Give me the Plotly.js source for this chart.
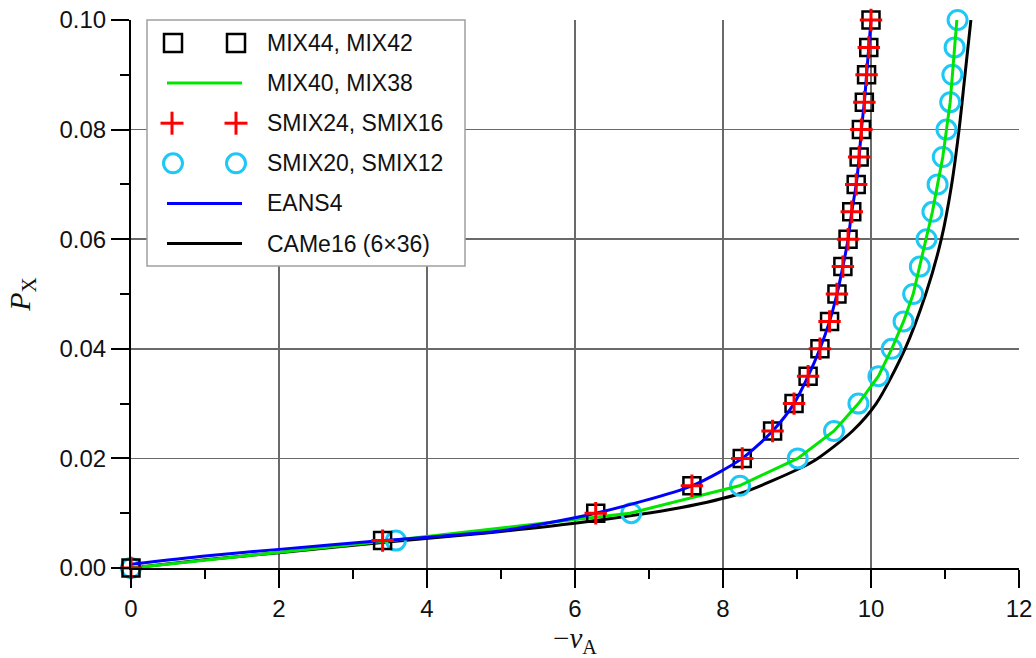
<!DOCTYPE html>
<html><head><meta charset="utf-8">
<script src="https://cdn.plot.ly/plotly-3.0.1.min.js"></script>
<style>html,body{margin:0;padding:0;background:#fff}#chart{width:1036px;height:658px}</style>
</head><body><div id="chart"></div>
<script>
// P_X levels shared by the marker series
const pxLevels = [0, 0.005, 0.01, 0.015, 0.02, 0.025, 0.03, 0.035, 0.04, 0.045, 0.05,
                  0.055, 0.06, 0.065, 0.07, 0.075, 0.08, 0.085, 0.09, 0.095, 0.10];
// MIX44, MIX42 (squares)
const mix44X = [0, 3.40, 6.28, 7.58, 8.26, 8.67, 8.96, 9.15, 9.31, 9.44, 9.54,
                9.62, 9.69, 9.74, 9.80, 9.84, 9.87, 9.91, 9.94, 9.97, 10.00];
// SMIX24, SMIX16 (plus)
const smix24X = [0, 3.40, 6.28, 7.58, 8.26, 8.67, 8.96, 9.15, 9.31, 9.44, 9.54,
                 9.62, 9.69, 9.74, 9.80, 9.84, 9.87, 9.91, 9.94, 9.97, 10.00];
// SMIX20, SMIX12 (circles)
const smix20X = [0, 3.58, 6.76, 8.23, 9.01, 9.50, 9.83, 10.10, 10.28, 10.44, 10.57,
                 10.66, 10.75, 10.83, 10.90, 10.97, 11.02, 11.07, 11.10, 11.13, 11.17];
// MIX40, MIX38 (green line)
const mix40X = [0, 3.52, 6.74, 8.22, 9.01, 9.50, 9.83, 10.10, 10.28, 10.44, 10.57,
                10.66, 10.75, 10.83, 10.90, 10.97, 11.02, 11.07, 11.10, 11.13, 11.16];
// EANS4 (blue line)
const eansX = [0, 1, 2, 3.40, 5.0, 6.28, 7.58, 8.26, 8.67, 8.96, 9.15, 9.31, 9.44, 9.54,
               9.62, 9.69, 9.74, 9.80, 9.84, 9.87, 9.91, 9.94, 9.97, 10.00];
const eansY = [0.0007, 0.0022, 0.0034, 0.005, 0.0068, 0.01, 0.015, 0.02, 0.025, 0.03, 0.035, 0.04,
               0.045, 0.05, 0.055, 0.06, 0.065, 0.07, 0.075, 0.08, 0.085, 0.09, 0.095, 0.10];
// CAMe16 (6x36) (black line)
const cameX = [0, 1, 2, 3.5, 4.8, 6.02, 7.42, 8.23, 9.04, 9.28, 9.75, 10.07, 10.46,
               10.74, 10.95, 11.09, 11.19, 11.27, 11.35];
const cameY = [0, 0.0015, 0.0028, 0.0048, 0.0064, 0.0082, 0.011, 0.0136, 0.0182, 0.020, 0.025,
               0.030, 0.040, 0.050, 0.060, 0.070, 0.080, 0.090, 0.100];

const legendLabels = ['MIX44, MIX42', 'MIX40, MIX38', 'SMIX24, SMIX16', 'SMIX20, SMIX12', 'EANS4', 'CAMe16 (6×36)'];

const C = {black:'#000000', green:'#00e600', red:'#ff0000', cyan:'#1ec8f5', blue:'#0000ff', grid:'#6a6a6a'};

const traces = [
  {x: cameX, y: cameY, mode:'lines', line:{color:C.black, width:3, shape:'spline', smoothing:0.8}, name:legendLabels[5]},
  {x: smix20X, y: pxLevels, mode:'markers', cliponaxis:false,
   marker:{symbol:'circle-open', size:19, line:{color:C.cyan, width:3}, color:C.cyan}, name:legendLabels[3]},
  {x: mix40X, y: pxLevels, mode:'lines', line:{color:C.green, width:3}, name:legendLabels[1]},
  {x: mix44X, y: pxLevels, mode:'markers', cliponaxis:false,
   marker:{symbol:'square-open', size:17, line:{color:C.black, width:2.5}, color:C.black}, name:legendLabels[0]},
  {x: eansX, y: eansY, mode:'lines', line:{color:C.blue, width:3, shape:'spline', smoothing:0.7}, name:legendLabels[4]},
  {x: smix24X, y: pxLevels, mode:'markers', cliponaxis:false,
   marker:{symbol:'cross-thin', size:16, line:{color:C.red, width:3}, color:C.red}, name:legendLabels[2]}
];

// plot area geometry (px)
const L = 131, R = 17, T = 20, B = 90, W = 1036, H = 658;
const PW = W - L - R, PH = H - T - B;
const px2x = p => (p - L) / PW;
const py2y = p => (H - B - p) / PH;

// custom legend
const shapes = [];
const annotations = [];
shapes.push({type:'rect', xref:'paper', yref:'paper', x0:px2x(147), x1:px2x(465), y0:py2y(266), y1:py2y(20),
             fillcolor:'#ffffff', line:{color:'#a0a0a0', width:1.5}, layer:'above'});
const rowTop = 43, rowStep = 40.1, symA = 173, symB = 236, lineA = 167, lineB = 242, textX = 265;
const legendKinds = ['square', 'line-green', 'plus', 'circle', 'line-blue', 'line-black'];
legendKinds.forEach((k, i) => {
  const cy = py2y(rowTop + i * rowStep);
  const base = {xref:'paper', yref:'paper', layer:'above', xsizemode:'pixel', ysizemode:'pixel', yanchor:cy};
  if (k === 'square') {
    [symA, symB].forEach(sx => shapes.push(Object.assign({}, base, {type:'rect', xanchor:px2x(sx), x0:-9, x1:9, y0:-9, y1:9, line:{color:C.black, width:2.5}})));
  } else if (k === 'circle') {
    [symA, symB].forEach(sx => shapes.push(Object.assign({}, base, {type:'circle', xanchor:px2x(sx), x0:-9.5, x1:9.5, y0:-9.5, y1:9.5, line:{color:C.cyan, width:3}})));
  } else if (k === 'plus') {
    [symA - 1, symB].forEach(sx => {
      shapes.push(Object.assign({}, base, {type:'line', xanchor:px2x(sx), x0:-11.5, x1:11.5, y0:0, y1:0, line:{color:C.red, width:3}}));
      shapes.push(Object.assign({}, base, {type:'line', xanchor:px2x(sx), x0:0, x1:0, y0:-11.5, y1:11.5, line:{color:C.red, width:3}}));
    });
  } else {
    const col = k === 'line-green' ? C.green : (k === 'line-blue' ? C.blue : C.black);
    shapes.push({type:'line', xref:'paper', yref:'paper', layer:'above', x0:px2x(lineA), x1:px2x(lineB), y0:cy, y1:cy, line:{color:col, width:3}});
  }
  annotations.push({xref:'paper', yref:'paper', x:px2x(textX), y:cy, xanchor:'left', yanchor:'middle', showarrow:false,
                    text:legendLabels[i], font:{family:'Liberation Sans, Arial, sans-serif', size:23, color:'#111'}});
});

const tickFont = {family:'Liberation Sans, Arial, sans-serif', size:24, color:'#111'};
const layout = {
  width: W, height: H,
  margin: {l:L, r:R, t:T, b:B, pad:0},
  paper_bgcolor:'#ffffff', plot_bgcolor:'#ffffff',
  showlegend:false,
  xaxis: {
    range:[0, 12], dtick:2, tick0:0, showgrid:true, gridcolor:C.grid, gridwidth:1.5, zeroline:false,
    showline:true, linecolor:'#000', linewidth:2, ticks:'outside', ticklen:18, tickwidth:2, tickcolor:'#000',
    tickfont:tickFont,
    minor:{dtick:1, ticks:'outside', ticklen:9, tickwidth:2, tickcolor:'#000', showgrid:false},
    title:{text:'−<i>v</i><sub>A</sub>', font:{family:'Liberation Serif, Times New Roman, serif', size:29, color:'#111'}, standoff:14},
    automargin:false
  },
  yaxis: {
    range:[0, 0.1], dtick:0.02, tick0:0, tickformat:'.2f', showgrid:true, gridcolor:C.grid, gridwidth:1.5, zeroline:false,
    showline:true, linecolor:'#000', linewidth:2, ticks:'outside', ticklen:18, tickwidth:2, tickcolor:'#000',
    tickfont:tickFont,
    minor:{dtick:0.01, ticks:'outside', ticklen:9, tickwidth:2, tickcolor:'#000', showgrid:false},
    title:{text:'<i>P</i><sub>X</sub>', font:{family:'Liberation Serif, Times New Roman, serif', size:30, color:'#111'}, standoff:20},
    automargin:false
  },
  shapes: shapes,
  annotations: annotations
};

Plotly.newPlot('chart', traces, layout, {displayModeBar:false, staticPlot:true});
</script></body></html>
